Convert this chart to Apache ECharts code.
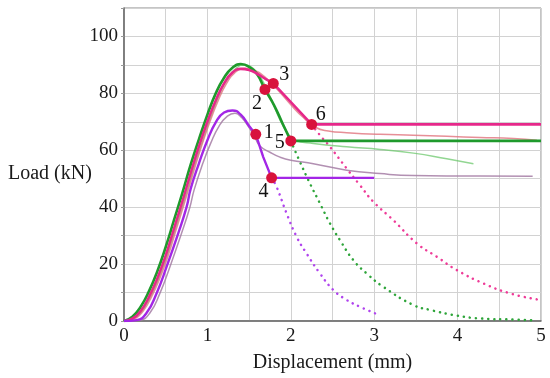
<!DOCTYPE html>
<html>
<head>
<meta charset="utf-8">
<script src="https://cdn.jsdelivr.net/npm/echarts@6/dist/echarts.min.js"></script>
<style>html,body{margin:0;padding:0;background:#fff;}#c{width:550px;height:378px;}</style>
</head>
<body>
<div id="c"></div>
<script>
// ---- data (displacement mm, load kN) ----
const xTicks = [0, 1, 2, 3, 4, 5];
const yTicks = [0, 20, 40, 60, 80, 100];

const greenCurve = [[0,0],[0.1,1.5],[0.2,5],[0.3,10.5],[0.4,17.5],[0.5,26],[0.6,35.5],[0.7,45],[0.8,55],[0.9,64],[1.0,72.5],[1.1,80],[1.2,85.5],[1.3,89],[1.4,90.3],[1.5,89.3],[1.6,86.5],[1.69,81.4],[1.8,75.8],[1.9,69.5],[2.0,63.3]];
const greenFlat = [[2.0,63.3],[5,63.3]];
const pinkCurve = [[0,0],[0.1,0.8],[0.2,3.5],[0.3,8.5],[0.4,15],[0.5,23],[0.6,32.5],[0.7,42],[0.8,52],[0.9,61.5],[1.0,70],[1.1,77.5],[1.2,83.5],[1.3,87.3],[1.4,88.6],[1.5,88.2],[1.6,86.8],[1.7,85],[1.79,83.5]];
const pinkTail = [[1.79,83.5],[2.25,69.1],[5,69.1]];
const purpleCurve = [[0,0],[0.15,0.3],[0.27,2.8],[0.39,9.7],[0.51,19],[0.65,30.8],[0.75,40],[0.8,46.5],[0.9,55.5],[1.0,63.5],[1.1,69.8],[1.2,73.3],[1.3,74],[1.4,72.5],[1.5,68.5],[1.58,65.6]];
const purpleTail = [[1.58,65.6],[1.67,57.6],[1.77,50.3],[3.0,50.3]];

const greenTest = [[0,0],[0.15,1.5],[0.25,5],[0.35,10.5],[0.45,17.5],[0.55,26],[0.65,35.5],[0.75,45],[0.85,55],[0.95,64],[1.05,72.5],[1.15,80],[1.25,85.5],[1.35,89],[1.45,90],[1.55,88.7],[1.65,85],[1.75,79],[1.85,72],[1.95,66.5],[2.05,63.5],[2.27,62.4],[2.67,61.2],[3.07,60.3],[3.47,59],[3.87,57],[4.19,55.3]];
const pinkTest = [[0,0],[0.13,0.8],[0.23,3.5],[0.33,8.5],[0.43,15],[0.53,23],[0.63,32.5],[0.73,42],[0.83,52],[0.93,61.5],[1.03,70],[1.13,77.5],[1.23,83.5],[1.33,87.3],[1.45,88.8],[1.55,88.3],[1.7,85.5],[1.85,81],[2.0,76],[2.15,71.5],[2.3,68],[2.45,66.8],[2.67,66.2],[3.07,65.6],[3.47,65.3],[3.87,64.9],[4.27,64.5],[4.67,64.1],[4.95,63.5]];
const purpleTest = [[0,0],[0.19,0.3],[0.31,2.8],[0.43,9.7],[0.55,19],[0.69,30.8],[0.79,40],[0.84,46],[0.94,55],[1.04,62.5],[1.14,68.5],[1.24,72],[1.33,73],[1.41,71.5],[1.5,68],[1.57,64.5],[1.63,61.5],[1.75,59.3],[1.87,57.6],[2.0,56.5],[2.27,55.3],[2.67,53],[3.07,51.8],[3.47,51.1],[3.87,51],[4.27,51],[4.9,50.9]];

const purpleDotted = [[1.77,50.3],[1.83,47.1],[1.95,37.8],[2.07,29.6],[2.19,23.7],[2.35,16.7],[2.51,10.9],[2.67,7.4],[2.83,5],[3.01,2.7]];
const greenDotted = [[2.0,63.3],[2.11,55.9],[2.23,48.3],[2.35,41.3],[2.47,34.3],[2.59,28.4],[2.75,21.4],[2.91,16.7],[3.11,12],[3.47,5.6],[3.67,3.9],[3.99,1.9],[4.27,0.9],[4.67,0.5],[4.95,0.2]];
const pinkDotted = [[2.25,69.1],[2.35,65.3],[2.47,61.2],[2.67,53.6],[2.83,47.7],[2.99,41.9],[3.23,35.4],[3.51,27.3],[3.75,22.6],[3.99,17.9],[4.31,13.2],[4.63,9.7],[4.95,7.6]];

const pointX = [1.58, 1.69, 1.79, 1.77, 2.0, 2.25];
const pointY = [65.6, 81.4, 83.5, 50.3, 63.3, 69.1];
const pointLabels = ['1', '2', '3', '4', '5', '6'];

// ---- styles ----
const GREEN = '#1f9a2c', PINK = '#e6288a', PURPLE = '#a326e6';
const GREEN_L = 'rgba(110,200,110,0.75)', PINK_L = 'rgba(225,115,125,0.8)', PURPLE_L = 'rgba(165,125,165,0.85)';
const FONT = '"Liberation Serif", "DejaVu Serif", serif';
// label placement relative to each point: [dx, dy, align]
const labelPos = [[8,-2,'left'],[-3,14,'right'],[6,-9,'left'],[-3,14,'right'],[-6,2,'right'],[4,-10,'left']];

function line(data, color, width, opts) {
  return Object.assign({
    type: 'line', data: data, showSymbol: false, symbol: 'none', silent: true,
    lineStyle: { color: color, width: width }, smooth: false, z: 3
  }, opts || {});
}
function dotted(data, color) {
  return line(data, color, 2.5, { smooth: true, z: 1,
    lineStyle: { color: color, width: 2.5, type: [0.1, 6], cap: 'round' } });
}

const series = [
  dotted(purpleDotted, '#b044ee'),
  dotted(greenDotted, '#2ea53a'),
  dotted(pinkDotted, '#ee3c98'),
  line(greenTest, GREEN_L, 1.5, { smooth: true, z: 2 }),
  line(pinkTest, PINK_L, 1.5, { smooth: true, z: 2 }),
  line(purpleTest, PURPLE_L, 1.5, { smooth: true, z: 2 }),
  line(greenCurve, GREEN, 2.6, { smooth: true }),
  line(greenFlat, GREEN, 2.6),
  line(pinkCurve, PINK, 2.6, { smooth: true }),
  line(pinkTail, PINK, 2.6),
  line(purpleCurve, PURPLE, 2.4, { smooth: true }),
  line(purpleTail, PURPLE, 2.4),
  {
    type: 'scatter', symbol: 'circle', symbolSize: 11, z: 5, silent: true,
    itemStyle: { color: '#d8123c', opacity: 1 },
    label: { show: true, position: 'inside', color: '#111111', fontSize: 20, fontFamily: FONT,
      textBorderWidth: 0, opacity: 1 },
    data: pointX.map(function (x, i) {
      const p = labelPos[i];
      return {
        value: [x, pointY[i]],
        label: { formatter: pointLabels[i], offset: [p[0], p[1]], align: p[2], verticalAlign: 'middle' }
      };
    })
  }
];

const chart = echarts.init(document.getElementById('c'), null, { renderer: 'canvas' });
chart.setOption({
  backgroundColor: '#ffffff',
  animation: false,
  grid: { left: 124, right: 9, top: 8, bottom: 57, show: true, borderColor: '#8a8a8a', borderWidth: 1, containLabel: false },
  xAxis: {
    type: 'value', min: 0, max: 5, interval: 0.5,
    name: 'Displacement (mm)', nameLocation: 'middle', nameGap: 32,
    nameTextStyle: { fontFamily: FONT, fontSize: 20, color: '#1a1a1a' },
    axisLine: { show: true, onZero: false, lineStyle: { color: '#666', width: 1.5 } },
    axisTick: { show: false },
    axisLabel: { margin: 6, fontFamily: FONT, fontSize: 19, color: '#1a1a1a',
      formatter: function (v) { return xTicks.indexOf(v) >= 0 ? String(v) : ''; } },
    splitLine: { show: true, lineStyle: { color: '#d2d2d2', width: 1 } }
  },
  yAxis: {
    type: 'value', min: 0, max: 110, interval: 10,
    axisLine: { show: true, onZero: false, lineStyle: { color: '#666', width: 1.5 } },
    axisTick: { show: true, length: 3, lineStyle: { color: '#999' } },
    axisLabel: { margin: 6, fontFamily: FONT, fontSize: 19, color: '#1a1a1a',
      formatter: function (v) { return yTicks.indexOf(v) >= 0 ? String(v) : ''; } },
    splitLine: { show: true, lineStyle: { color: '#d2d2d2', width: 1 } }
  },
  graphic: [{
    type: 'text', left: 8, top: 164,
    style: { text: 'Load (kN)', fontFamily: FONT, fontSize: 20, fill: '#1a1a1a' }
  }],
  series: series
});
</script>
</body>
</html>
